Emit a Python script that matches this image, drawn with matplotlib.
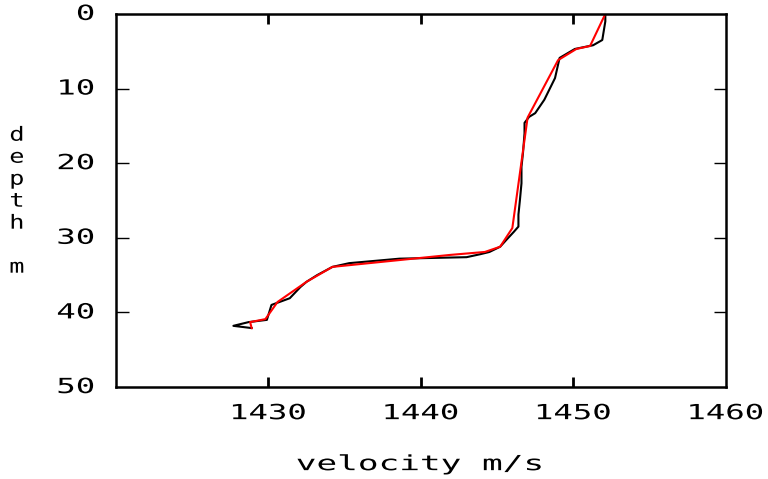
import numpy as np
import matplotlib.pyplot as plt
from matplotlib import patheffects
from matplotlib.transforms import Affine2D

# measured sound velocity profile (black) and smoothed fit (red)
meas_depth = [0.0, 1.0, 3.5, 4.2, 4.7, 5.9, 8.6, 11.5, 13.3, 13.8, 14.6, 16.0,
              18.6, 20.5, 22.7, 24.9, 26.9, 28.5, 29.2, 30.3, 31.2, 31.9, 32.2,
              32.6, 32.8, 33.4, 33.9, 35.0, 35.9, 36.6, 38.1, 39.0, 41.0, 41.3,
              41.8, 42.1]
meas_vel = [1452.1, 1452.1, 1451.9, 1451.3, 1450.1, 1449.1, 1448.8, 1448.1,
            1447.5, 1447.1, 1446.8, 1446.8, 1446.7, 1446.6, 1446.6, 1446.5,
            1446.4, 1446.4, 1446.1, 1445.6, 1445.2, 1444.5, 1443.9, 1443.0,
            1438.6, 1435.3, 1434.2, 1433.2, 1432.5, 1432.1, 1431.4, 1430.2,
            1429.9, 1428.7, 1427.7, 1428.9]

fit_depth = [0.0, 4.3, 4.7, 6.2, 13.9, 28.7, 31.2, 31.9, 32.3, 33.9, 35.9,
             38.6, 40.9, 41.3, 42.1]
fit_vel = [1452.1, 1451.1, 1450.2, 1449.0, 1447.0, 1446.0, 1445.2, 1444.2,
           1441.9, 1434.2, 1432.5, 1430.6, 1429.8, 1428.8, 1428.9]

x_ticks = [1430, 1440, 1450, 1460]
y_ticks = [0, 10, 20, 30, 40, 50]

font = 'DejaVu Sans Mono'


class Stretch(patheffects.AbstractPathEffect):
    # widen glyphs horizontally, like the old plotter font
    def __init__(self, sx, anchor='center'):
        super().__init__()
        self.sx = sx
        self.anchor = anchor

    def draw_path(self, renderer, gc, tpath, affine, rgbFace=None):
        ext = tpath.get_extents()
        if self.anchor == 'right':
            cx = ext.x1
        else:
            cx = (ext.x0 + ext.x1) / 2
        t = Affine2D().translate(-cx, 0).scale(self.sx, 1).translate(cx, 0) + affine
        renderer.draw_path(gc, tpath, t, rgbFace)


fig = plt.figure(figsize=(7.68, 4.79), dpi=100)
ax = fig.add_axes([0.151, 0.192, 0.794, 0.779])

ax.plot(meas_vel, meas_depth, color='black', lw=1.5)
ax.plot(fit_vel, fit_depth, color='red', lw=1.5)

ax.set_xlim(1420, 1460)
ax.set_ylim(50, 0)
ax.set_xticks(x_ticks[:-1])
ax.set_yticks(y_ticks[1:-1])
ax.tick_params(axis='x', direction='in', length=7, width=2, top=True,
               labelbottom=False)
ax.tick_params(axis='y', direction='in', length=9, width=1, right=True,
               labelleft=False)
for s in ax.spines.values():
    s.set_linewidth(1.8)

# tick labels drawn separately so the end values sit at the axis corners
for v in x_ticks:
    ax.text(v, 53.5, str(v), ha='center', va='center', fontsize=15,
            family=font, path_effects=[Stretch(1.55)])
for d in y_ticks:
    ax.text(1418.6, d, str(d), ha='right', va='center', fontsize=15,
            family=font, path_effects=[Stretch(1.55, 'right')])

fig.text(0.547, 0.031, 'velocity m/s', ha='center', va='center',
         fontsize=15, family=font, path_effects=[Stretch(1.65)])
fig.text(0.022, 0.58, 'd\ne\np\nt\nh\n\nm', ha='center', va='center',
         fontsize=14, family=font, linespacing=1.2,
         path_effects=[Stretch(1.3)])

fig.savefig('out.png', dpi=100)
